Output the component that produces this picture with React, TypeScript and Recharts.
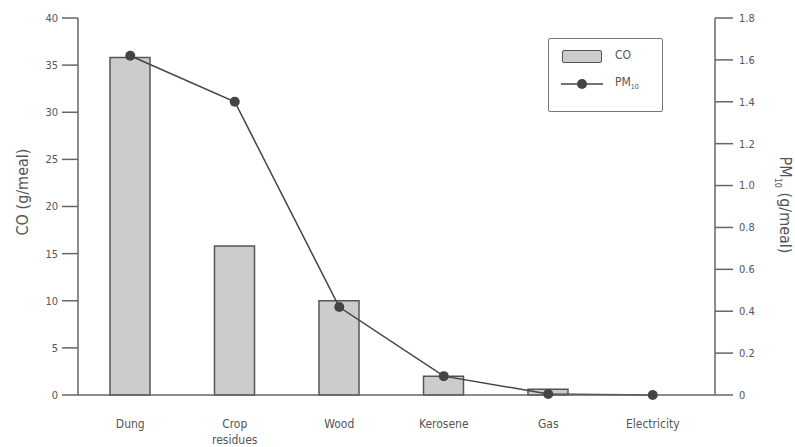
import React from "react";
import { ComposedChart, Bar, Line, XAxis, YAxis } from "recharts";

const fuels: string[] = ["Dung", "Crop residues", "Wood", "Kerosene", "Gas", "Electricity"];
const coValues: number[] = [35.8, 15.8, 10.0, 2.0, 0.6, 0];
const pm10Values: number[] = [1.62, 1.4, 0.42, 0.09, 0.005, 0];
const coTicks: number[] = [0, 5, 10, 15, 20, 25, 30, 35, 40];
const pmTicks: number[] = [0, 0.2, 0.4, 0.6, 0.8, 1.0, 1.2, 1.4, 1.6, 1.8];

const data = fuels.map((name, i) => ({ name, co: coValues[i], pm10: pm10Values[i] }));

const FONT = "'Liberation Sans Narrow', 'DejaVu Sans Condensed', 'Open Sans', sans-serif";
const TEXT = "#555";
const AXIS = "#666";

const FuelTick = ({ x, y, payload }: any) => {
  const lines = String(payload.value).split(" ");
  return (
    <text x={x} y={y} textAnchor="middle" fill={TEXT} fontSize={12} fontFamily={FONT}>
      {lines.map((l, i) => (
        <tspan key={i} x={x} dy={i === 0 ? 25 : 16}>
          {l}
        </tspan>
      ))}
    </text>
  );
};

const LegendBox = () => (
  <div
    style={{
      position: "absolute",
      left: 548,
      top: 38,
      width: 113,
      height: 72,
      border: "1px solid #777",
      borderRadius: 2,
      background: "#fff",
      fontFamily: FONT,
      fontSize: 12,
      color: TEXT,
    }}
  >
    <div
      style={{
        position: "absolute",
        left: 13,
        top: 11,
        width: 38,
        height: 11,
        background: "#cccccc",
        border: "1.5px solid #555",
        borderRadius: 2,
      }}
    />
    <div style={{ position: "absolute", left: 66, top: 9 }}>CO</div>
    <svg style={{ position: "absolute", left: 12, top: 39 }} width={42} height={12}>
      <line x1={0} y1={6} x2={42} y2={6} stroke="#444" strokeWidth={1.5} />
      <circle cx={21} cy={6} r={5} fill="#444" />
    </svg>
    <div style={{ position: "absolute", left: 66, top: 36 }}>
      PM<sub style={{ fontSize: 7 }}>10</sub>
    </div>
  </div>
);

export default function App() {
  return (
    <div style={{ position: "absolute", left: 0, top: 0, width: 795, height: 447, background: "#fff" }}>
      <ComposedChart width={795} height={447} data={data} margin={{ top: 18, right: 0, left: 0, bottom: 0 }}>
        <XAxis
          dataKey="name"
          axisLine={{ stroke: AXIS, strokeWidth: 1.5 }}
          tickLine={false}
          tick={<FuelTick />}
          height={52}
          interval={0}
          padding={{ left: 0, right: 10 }}
        />
        <YAxis
          yAxisId="co"
          orientation="left"
          width={78}
          domain={[0, 40]}
          ticks={coTicks}
          interval={0}
          tickSize={16}
          tickMargin={4}
          axisLine={{ stroke: AXIS, strokeWidth: 1.5 }}
          tickLine={{ stroke: AXIS, strokeWidth: 1.5 }}
          tick={{ fill: TEXT, fontSize: 11, fontFamily: FONT }}
          label={{
            content: () => (
              <text
                x={28}
                y={192}
                transform="rotate(-90 28 192)"
                textAnchor="middle"
                fill={TEXT}
                fontSize={16}
                fontFamily={FONT}
              >
                CO (g/meal)
              </text>
            ),
          }}
        />
        <YAxis
          yAxisId="pm"
          orientation="right"
          width={80}
          domain={[0, 1.8]}
          ticks={pmTicks}
          interval={0}
          tickSize={18}
          tickMargin={6}
          tickFormatter={(v: number) => (v === 0 ? "0" : v.toFixed(1))}
          axisLine={{ stroke: AXIS, strokeWidth: 1.5 }}
          tickLine={{ stroke: AXIS, strokeWidth: 1.5 }}
          tick={{ fill: TEXT, fontSize: 11, fontFamily: FONT, textAnchor: "start" }}
          label={{
            content: () => (
              <text
                x={780}
                y={205}
                transform="rotate(90 780 205)"
                textAnchor="middle"
                fill={TEXT}
                fontSize={16}
                fontFamily={FONT}
              >
                PM
                <tspan fontSize={9} dy={5}>10</tspan>
                <tspan dy={-5}> (g/meal)</tspan>
              </text>
            ),
          }}
        />
        <Bar
          yAxisId="co"
          dataKey="co"
          name="CO"
          barSize={40}
          fill="#cccccc"
          stroke="#555"
          strokeWidth={1.5}
          isAnimationActive={false}
        />
        <Line
          yAxisId="pm"
          dataKey="pm10"
          name="PM10"
          type="linear"
          stroke="#444"
          strokeWidth={1.5}
          dot={{ r: 5, fill: "#444", stroke: "#444", strokeWidth: 0 }}
          activeDot={false}
          isAnimationActive={false}
        />
      </ComposedChart>
      <LegendBox />
    </div>
  );
}
